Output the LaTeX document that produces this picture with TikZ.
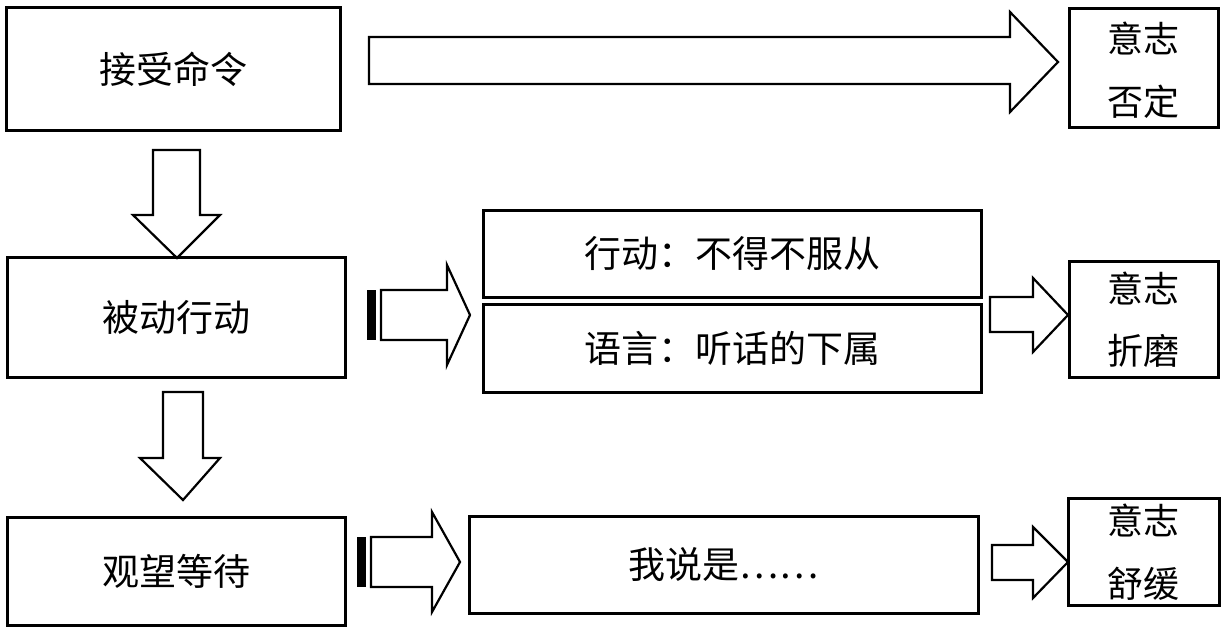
\documentclass[tikz,border=0pt]{standalone}
\usepackage{fontspec}
\newfontfamily\cjk{Noto Sans CJK SC}
\begin{document}
\begin{tikzpicture}[x=1pt,y=-1pt,
  box/.style={draw,line width=3pt,inner sep=0pt,font=\cjk\fontsize{37}{42}\selectfont},
  sidebox/.style={draw,line width=3pt,inner sep=0pt},
  blockarrow/.style={draw,line width=2.2pt,fill=white,line join=miter},
  lbl/.style={inner sep=0pt,font=\cjk\fontsize{36}{40}\selectfont}]
\useasboundingbox (0,0) rectangle (1222,634);
% main boxes
\node[box,minimum width=334pt,minimum height=122pt] (A) at (173,69) {接受命令};
\node[box,minimum width=338pt,minimum height=120pt] (B) at (176,317) {被动行动};
\node[box,minimum width=338pt,minimum height=108pt] (D) at (176,571) {观望等待};
\node[box,minimum width=498pt,minimum height=87pt] (C1) at (732,253.5) {行动：不得不服从};
\node[box,minimum width=498pt,minimum height=88pt] (C2) at (732,348) {语言：听话的下属};
\node[box,minimum width=509pt,minimum height=97pt] (E) at (723.5,564.5) {我说是……};
% side boxes
\node[sidebox,minimum width=149pt,minimum height=118pt] (R1) at (1143.5,68) {};
\node[lbl] (R1a) at (1143.5,38) {意志};
\node[lbl] (R1b) at (1143.5,102) {否定};
\node[sidebox,minimum width=149pt,minimum height=116pt] (R2) at (1143.5,319) {};
\node[lbl] (R2a) at (1143.5,288) {意志};
\node[lbl] (R2b) at (1143.5,351) {折磨};
\node[sidebox,minimum width=151pt,minimum height=107pt] (R3) at (1144,551.5) {};
\node[lbl] (R3a) at (1143.5,520) {意志};
\node[lbl] (R3b) at (1143.5,584) {舒缓};
% top long arrow
\draw[blockarrow] (369,37) -- (1010,37) -- (1010,12) -- (1058,62) -- (1010,112) -- (1010,84) -- (369,84) -- cycle;
% down arrows
\draw[blockarrow] (153,150) -- (200,150) -- (200,215) -- (220,215) -- (177,258) -- (133,215) -- (153,215) -- cycle;
\draw[blockarrow] (163,392) -- (203,392) -- (203,458) -- (220,458) -- (183,500) -- (140,458) -- (163,458) -- cycle;
% striped arrows
\fill (367,290) rectangle (376,340);
\draw[blockarrow] (381,290) -- (447,290) -- (447,265) -- (470,315) -- (447,365) -- (447,340) -- (381,340) -- cycle;
\fill (357,537) rectangle (366,587);
\draw[blockarrow] (371,537) -- (432,537) -- (432,512) -- (460,562) -- (432,612) -- (432,587) -- (371,587) -- cycle;
% small right arrows
\draw[blockarrow] (990,297) -- (1033,297) -- (1033,278) -- (1068,315) -- (1033,352) -- (1033,332) -- (990,332) -- cycle;
\draw[blockarrow] (992,545) -- (1033,545) -- (1033,527) -- (1068,562) -- (1033,598) -- (1033,580) -- (992,580) -- cycle;
\end{tikzpicture}
\end{document}
